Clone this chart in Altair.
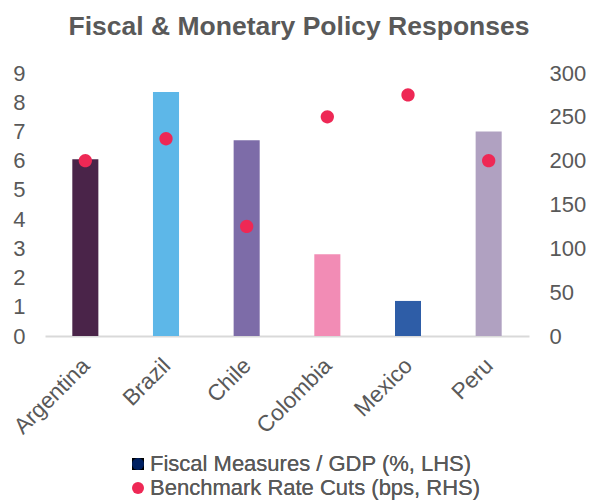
import altair as alt
import pandas as pd

countries = ["Argentina", "Brazil", "Chile", "Colombia", "Mexico", "Peru"]
fiscal = [6.05, 8.35, 6.7, 2.8, 1.2, 7.0]
rate_cuts = [200, 225, 125, 250, 275, 200]
bar_colors = ["#4A2449", "#5DB7E8", "#7D6CA8", "#F28CB5", "#2E5DA7", "#B0A1C1"]
series = ["Fiscal Measures / GDP (%, LHS)", "Benchmark Rate Cuts (bps, RHS)"]
series_colors = ["#002060", "#EE2855"]
left_ticks = list(range(0, 10))
right_ticks = list(range(0, 301, 50))

FONT = "Liberation Sans"
GRAY = "#595959"
circle_path = "M-0.8,0A0.8,0.8,0,1,0,0.8,0A0.8,0.8,0,1,0,-0.8,0Z"

df = pd.DataFrame({
    "country": countries,
    "fiscal": fiscal,
    "cuts": rate_cuts,
    "series": [series[1]] * len(countries),
})

x_enc = alt.X(
    "country:N", sort=countries,
    scale=alt.Scale(paddingInner=0.677, paddingOuter=0.3385),
    axis=alt.Axis(title=None, labelAngle=-45, labelAlign="right", labelBaseline="top",
                  labelFontSize=22.5, labelColor=GRAY, labelFont=FONT,
                  domainColor="#D9D9D9", domainWidth=2, ticks=False, labelPadding=18,
                  labelOffset=-7),
)

bars = alt.Chart(df).mark_bar().encode(
    x=x_enc,
    y=alt.Y("fiscal:Q", scale=alt.Scale(domain=[0, 9], nice=False),
            axis=alt.Axis(title=None, values=left_ticks, domain=False, ticks=False, grid=False,
                          labelFontSize=22, labelColor=GRAY, labelFont=FONT, labelPadding=20,
                          orient="left")),
    color=alt.Color("country:N", scale=alt.Scale(domain=countries, range=bar_colors), legend=None),
)

leg = alt.Legend(orient="none", legendX=82, legendY=380, title=None, labelFontSize=22,
                 labelColor=GRAY, labelFont=FONT, symbolSize=144, rowPadding=2,
                 symbolStrokeWidth=0, labelOffset=1, direction="vertical", symbolOpacity=1,
                 labelLimit=500)

dots = alt.Chart(df).mark_point(filled=True, opacity=1, size=276).encode(
    x=x_enc,
    y=alt.Y("cuts:Q", scale=alt.Scale(domain=[0, 300], nice=False),
            axis=alt.Axis(title=None, values=right_ticks, domain=False, ticks=False, grid=False,
                          labelFontSize=22, labelColor=GRAY, labelFont=FONT, labelPadding=20,
                          orient="right")),
    color=alt.Color("series:N", scale=alt.Scale(domain=series, range=series_colors), legend=leg),
    shape=alt.Shape("series:N", scale=alt.Scale(domain=series, range=["square", circle_path]), legend=leg),
)

chart = alt.layer(bars, dots).resolve_scale(y="independent", color="independent").properties(
    width=484, height=263,
    title=alt.TitleParams("Fiscal & Monetary Policy Responses", fontSize=26.5, fontWeight="bold",
                          color=GRAY, font=FONT, anchor="middle", dx=12, offset=1,
                          baseline="alphabetic"),
    autosize=alt.AutoSizeParams(type="none"),
    padding={"left": 37, "top": 65, "right": 59, "bottom": 166},
).configure_view(stroke=None)

chart.save("out.html", embed_options={"renderer": "svg", "actions": False})
